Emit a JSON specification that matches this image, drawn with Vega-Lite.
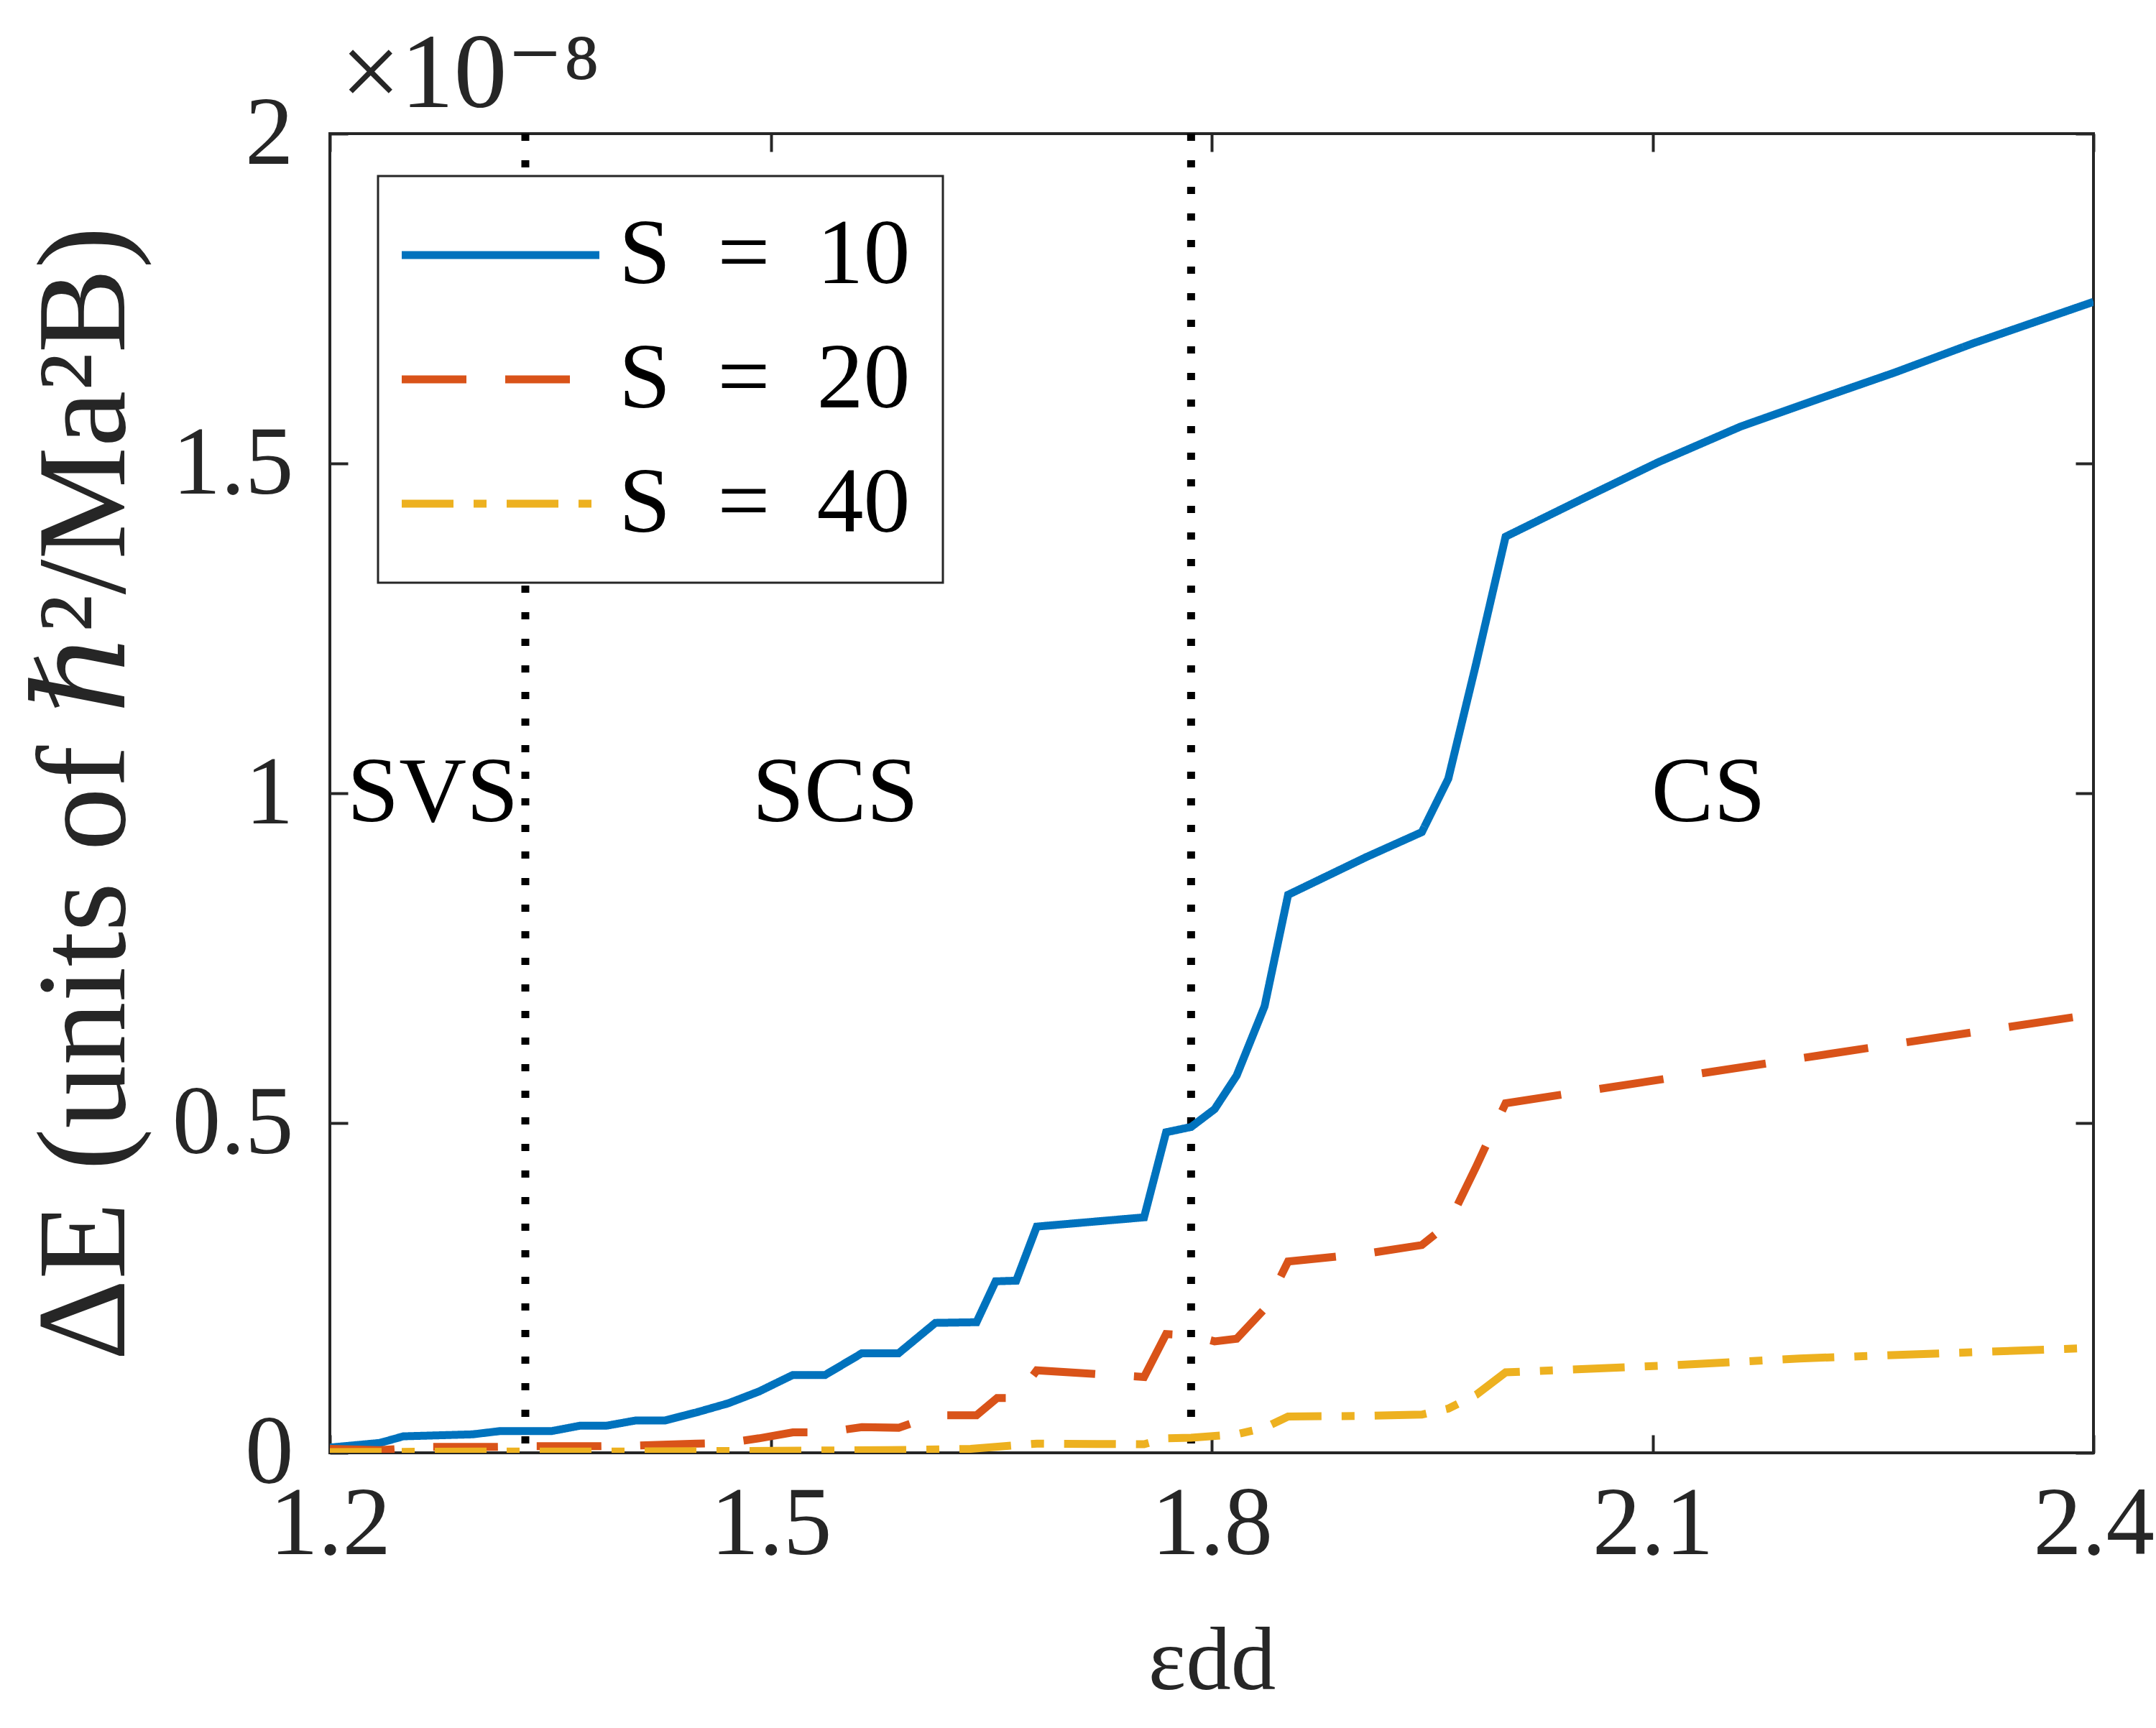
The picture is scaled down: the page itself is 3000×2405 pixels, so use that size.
{
  "$schema": "https://vega.github.io/schema/vega-lite/v6.json",
  "width": 2454,
  "height": 1836,
  "autosize": {"type": "none"},
  "padding": {"left": 459, "top": 186, "right": 87, "bottom": 383},
  "background": "white",
  "config": {
    "font": "Liberation Serif",
    "view": {"stroke": "#262626", "strokeWidth": 4},
    "axis": {
      "grid": false,
      "domain": false,
      "tickColor": "#262626",
      "tickWidth": 4,
      "tickSize": -25,
      "labelFont": "Liberation Serif",
      "labelFontSize": 135,
      "labelColor": "#262626",
      "labelFlush": false,
      "labelOverlap": false,
      "labelBound": false,
      "titleFont": "Liberation Serif, DejaVu Serif",
      "titleFontWeight": "normal",
      "titleColor": "#262626"
    }
  },
  "title": {
    "text": "×10⁻⁸",
    "anchor": "start",
    "frame": "group",
    "font": "Liberation Serif, DejaVu Serif",
    "fontSize": 148,
    "fontWeight": "normal",
    "color": "#262626",
    "baseline": "alphabetic",
    "offset": -178,
    "dx": 15
  },
  "datasets": {
    "curves": [
      {"eps": 1.200, "dE": 0.008, "series": "S\u2002=\u200210"},
      {"eps": 1.234, "dE": 0.015, "series": "S\u2002=\u200210"},
      {"eps": 1.250, "dE": 0.025, "series": "S\u2002=\u200210"},
      {"eps": 1.297, "dE": 0.028, "series": "S\u2002=\u200210"},
      {"eps": 1.316, "dE": 0.033, "series": "S\u2002=\u200210"},
      {"eps": 1.351, "dE": 0.033, "series": "S\u2002=\u200210"},
      {"eps": 1.370, "dE": 0.041, "series": "S\u2002=\u200210"},
      {"eps": 1.388, "dE": 0.041, "series": "S\u2002=\u200210"},
      {"eps": 1.408, "dE": 0.049, "series": "S\u2002=\u200210"},
      {"eps": 1.428, "dE": 0.049, "series": "S\u2002=\u200210"},
      {"eps": 1.449, "dE": 0.061, "series": "S\u2002=\u200210"},
      {"eps": 1.471, "dE": 0.075, "series": "S\u2002=\u200210"},
      {"eps": 1.492, "dE": 0.093, "series": "S\u2002=\u200210"},
      {"eps": 1.515, "dE": 0.118, "series": "S\u2002=\u200210"},
      {"eps": 1.537, "dE": 0.118, "series": "S\u2002=\u200210"},
      {"eps": 1.562, "dE": 0.151, "series": "S\u2002=\u200210"},
      {"eps": 1.587, "dE": 0.151, "series": "S\u2002=\u200210"},
      {"eps": 1.612, "dE": 0.197, "series": "S\u2002=\u200210"},
      {"eps": 1.640, "dE": 0.198, "series": "S\u2002=\u200210"},
      {"eps": 1.653, "dE": 0.260, "series": "S\u2002=\u200210"},
      {"eps": 1.667, "dE": 0.261, "series": "S\u2002=\u200210"},
      {"eps": 1.681, "dE": 0.343, "series": "S\u2002=\u200210"},
      {"eps": 1.754, "dE": 0.357, "series": "S\u2002=\u200210"},
      {"eps": 1.769, "dE": 0.486, "series": "S\u2002=\u200210"},
      {"eps": 1.786, "dE": 0.494, "series": "S\u2002=\u200210"},
      {"eps": 1.802, "dE": 0.521, "series": "S\u2002=\u200210"},
      {"eps": 1.817, "dE": 0.572, "series": "S\u2002=\u200210"},
      {"eps": 1.836, "dE": 0.677, "series": "S\u2002=\u200210"},
      {"eps": 1.852, "dE": 0.846, "series": "S\u2002=\u200210"},
      {"eps": 1.905, "dE": 0.903, "series": "S\u2002=\u200210"},
      {"eps": 1.943, "dE": 0.941, "series": "S\u2002=\u200210"},
      {"eps": 1.961, "dE": 1.022, "series": "S\u2002=\u200210"},
      {"eps": 1.980, "dE": 1.197, "series": "S\u2002=\u200210"},
      {"eps": 2.000, "dE": 1.389, "series": "S\u2002=\u200210"},
      {"eps": 2.052, "dE": 1.446, "series": "S\u2002=\u200210"},
      {"eps": 2.104, "dE": 1.502, "series": "S\u2002=\u200210"},
      {"eps": 2.160, "dE": 1.556, "series": "S\u2002=\u200210"},
      {"eps": 2.212, "dE": 1.597, "series": "S\u2002=\u200210"},
      {"eps": 2.265, "dE": 1.638, "series": "S\u2002=\u200210"},
      {"eps": 2.318, "dE": 1.682, "series": "S\u2002=\u200210"},
      {"eps": 2.400, "dE": 1.745, "series": "S\u2002=\u200210"},

      {"eps": 1.200, "dE": 0.006, "series": "S\u2002=\u200220"},
      {"eps": 1.234, "dE": 0.004, "series": "S\u2002=\u200220"},
      {"eps": 1.267, "dE": 0.009, "series": "S\u2002=\u200220"},
      {"eps": 1.312, "dE": 0.009, "series": "S\u2002=\u200220"},
      {"eps": 1.340, "dE": 0.010, "series": "S\u2002=\u200220"},
      {"eps": 1.383, "dE": 0.010, "series": "S\u2002=\u200220"},
      {"eps": 1.408, "dE": 0.011, "series": "S\u2002=\u200220"},
      {"eps": 1.449, "dE": 0.014, "series": "S\u2002=\u200220"},
      {"eps": 1.471, "dE": 0.015, "series": "S\u2002=\u200220"},
      {"eps": 1.492, "dE": 0.022, "series": "S\u2002=\u200220"},
      {"eps": 1.515, "dE": 0.031, "series": "S\u2002=\u200220"},
      {"eps": 1.537, "dE": 0.031, "series": "S\u2002=\u200220"},
      {"eps": 1.562, "dE": 0.039, "series": "S\u2002=\u200220"},
      {"eps": 1.587, "dE": 0.038, "series": "S\u2002=\u200220"},
      {"eps": 1.612, "dE": 0.057, "series": "S\u2002=\u200220"},
      {"eps": 1.640, "dE": 0.057, "series": "S\u2002=\u200220"},
      {"eps": 1.654, "dE": 0.083, "series": "S\u2002=\u200220"},
      {"eps": 1.667, "dE": 0.083, "series": "S\u2002=\u200220"},
      {"eps": 1.681, "dE": 0.125, "series": "S\u2002=\u200220"},
      {"eps": 1.754, "dE": 0.115, "series": "S\u2002=\u200220"},
      {"eps": 1.769, "dE": 0.180, "series": "S\u2002=\u200220"},
      {"eps": 1.786, "dE": 0.178, "series": "S\u2002=\u200220"},
      {"eps": 1.802, "dE": 0.169, "series": "S\u2002=\u200220"},
      {"eps": 1.817, "dE": 0.173, "series": "S\u2002=\u200220"},
      {"eps": 1.836, "dE": 0.218, "series": "S\u2002=\u200220"},
      {"eps": 1.852, "dE": 0.290, "series": "S\u2002=\u200220"},
      {"eps": 1.905, "dE": 0.302, "series": "S\u2002=\u200220"},
      {"eps": 1.943, "dE": 0.315, "series": "S\u2002=\u200220"},
      {"eps": 1.961, "dE": 0.347, "series": "S\u2002=\u200220"},
      {"eps": 1.980, "dE": 0.434, "series": "S\u2002=\u200220"},
      {"eps": 2.000, "dE": 0.530, "series": "S\u2002=\u200220"},
      {"eps": 2.200, "dE": 0.598, "series": "S\u2002=\u200220"},
      {"eps": 2.400, "dE": 0.665, "series": "S\u2002=\u200220"},

      {"eps": 1.200, "dE": 0.001, "series": "S\u2002=\u200240"},
      {"eps": 1.300, "dE": 0.002, "series": "S\u2002=\u200240"},
      {"eps": 1.400, "dE": 0.002, "series": "S\u2002=\u200240"},
      {"eps": 1.500, "dE": 0.003, "series": "S\u2002=\u200240"},
      {"eps": 1.580, "dE": 0.004, "series": "S\u2002=\u200240"},
      {"eps": 1.636, "dE": 0.006, "series": "S\u2002=\u200240"},
      {"eps": 1.653, "dE": 0.009, "series": "S\u2002=\u200240"},
      {"eps": 1.681, "dE": 0.014, "series": "S\u2002=\u200240"},
      {"eps": 1.754, "dE": 0.013, "series": "S\u2002=\u200240"},
      {"eps": 1.769, "dE": 0.022, "series": "S\u2002=\u200240"},
      {"eps": 1.786, "dE": 0.023, "series": "S\u2002=\u200240"},
      {"eps": 1.817, "dE": 0.028, "series": "S\u2002=\u200240"},
      {"eps": 1.836, "dE": 0.038, "series": "S\u2002=\u200240"},
      {"eps": 1.852, "dE": 0.055, "series": "S\u2002=\u200240"},
      {"eps": 1.905, "dE": 0.056, "series": "S\u2002=\u200240"},
      {"eps": 1.943, "dE": 0.058, "series": "S\u2002=\u200240"},
      {"eps": 1.961, "dE": 0.067, "series": "S\u2002=\u200240"},
      {"eps": 1.980, "dE": 0.088, "series": "S\u2002=\u200240"},
      {"eps": 2.000, "dE": 0.122, "series": "S\u2002=\u200240"},
      {"eps": 2.116, "dE": 0.133, "series": "S\u2002=\u200240"},
      {"eps": 2.200, "dE": 0.143, "series": "S\u2002=\u200240"},
      {"eps": 2.400, "dE": 0.159, "series": "S\u2002=\u200240"}
    ],
    "phases": [
      {"x": 1.333},
      {"x": 1.786}
    ],
    "regions": [
      {"x": 1.270, "y": 1.0, "name": "SVS"},
      {"x": 1.544, "y": 1.0, "name": "SCS"},
      {"x": 2.138, "y": 1.0, "name": "CS"}
    ]
  },
  "layer": [
    {
      "data": {"name": "phases"},
      "mark": {"type": "rule", "color": "black", "strokeWidth": 11, "strokeDash": [10, 27]},
      "encoding": {
        "x": {"field": "x", "type": "quantitative", "axis": null,
              "scale": {"domain": [1.2, 2.4], "nice": false, "zero": false}}
      }
    },
    {
      "data": {"name": "curves"},
      "mark": {"type": "line", "strokeWidth": 11, "clip": true},
      "encoding": {
        "x": {
          "field": "eps", "type": "quantitative",
          "scale": {"domain": [1.2, 2.4], "nice": false, "zero": false},
          "axis": {"orient": "bottom", "values": [1.2, 1.5, 1.8, 2.1, 2.4], "format": ".1f",
                   "labelPadding": 58, "title": "εdd", "titleFontSize": 125, "titlePadding": 62}
        },
        "y": {
          "field": "dE", "type": "quantitative",
          "scale": {"domain": [0, 2], "nice": false},
          "axis": {"orient": "left", "values": [0, 0.5, 1, 1.5, 2], "format": "~g",
                   "labelPadding": 76, "title": "ΔE  (units of ℏ²/Ma²B)", "titleFontSize": 176, "titlePadding": 50}
        },
        "color": {
          "field": "series", "type": "nominal",
          "scale": {"domain": ["S\u2002=\u200210", "S\u2002=\u200220", "S\u2002=\u200240"], "range": ["#0072BD", "#D95319", "#EDB120"]},
          "legend": {
            "orient": "none", "legendX": 67, "legendY": 59, "title": null,
            "padding": 45, "rowPadding": 43, "labelOffset": 160, "labelLimit": 2000,
            "labelFont": "Liberation Serif", "labelFontSize": 130, "labelColor": "black",
            "strokeColor": "#262626", "fillColor": "white",
            "symbolType": "M-2.8,0H7.2", "symbolSize": 3025, "symbolStrokeWidth": 11,
            "encode": {"legend": {"update": {"strokeWidth": {"value": 3}}}}
          }
        },
        "strokeDash": {
          "field": "series", "type": "nominal",
          "scale": {"domain": ["S\u2002=\u200210", "S\u2002=\u200220", "S\u2002=\u200240"], "range": [[1, 0], [90, 54], [72, 28, 18, 28]]}
        }
      }
    },
    {
      "data": {"name": "regions"},
      "mark": {"type": "text", "fontSize": 130, "color": "black", "align": "center", "baseline": "middle"},
      "encoding": {
        "x": {"field": "x", "type": "quantitative",
              "axis": {"orient": "top", "values": [1.2, 1.5, 1.8, 2.1, 2.4], "labels": false, "title": null}},
        "y": {"field": "y", "type": "quantitative",
              "axis": {"orient": "right", "values": [0, 0.5, 1, 1.5, 2], "labels": false, "title": null}},
        "text": {"field": "name"}
      }
    }
  ],
  "resolve": {"axis": {"x": "independent", "y": "independent"}}
}
